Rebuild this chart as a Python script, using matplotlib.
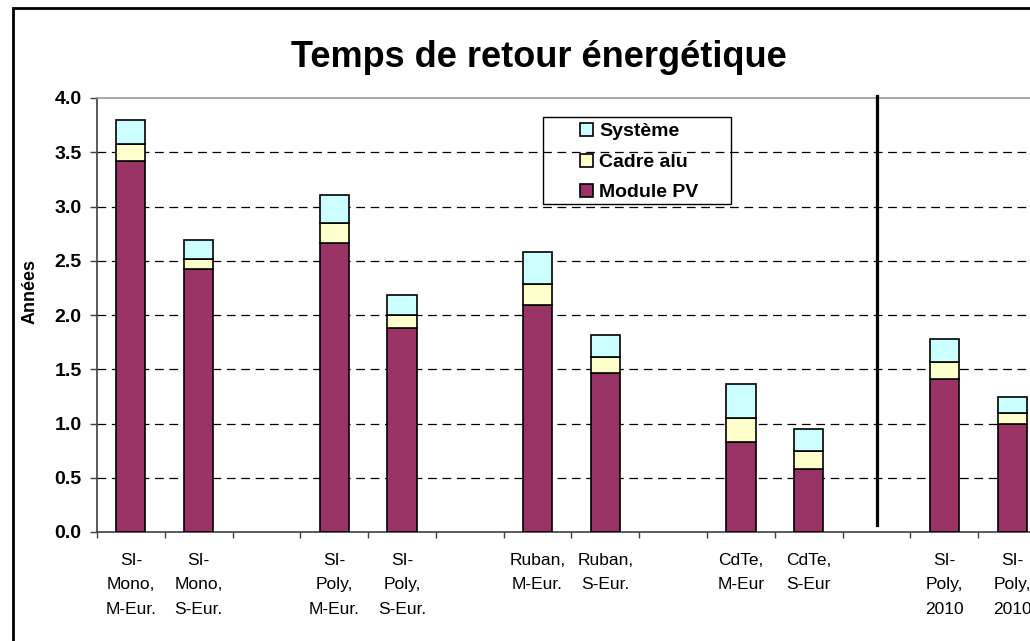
import matplotlib
matplotlib.use("Agg")
import matplotlib.pyplot as plt
import matplotlib.patches as mpatches
import numpy as np

plt.rcParams["font.family"] = ["Liberation Sans", "DejaVu Sans"]

# donnees (annees), '' = emplacement vide entre les groupes
categories = ['SI-\nMono,\nM-Eur.', 'SI-\nMono,\nS-Eur.', '',
              'SI-\nPoly,\nM-Eur.', 'SI-\nPoly,\nS-Eur.', '',
              'Ruban,\nM-Eur.', 'Ruban,\nS-Eur.', '',
              'CdTe,\nM-Eur', 'CdTe,\nS-Eur', '',
              'SI-\nPoly,\n2010', 'SI-\nPoly,\n2010']
module_pv = [3.42, 2.42, 0, 2.66, 1.88, 0, 2.09, 1.47, 0, 0.83, 0.58, 0, 1.41, 1.00]
cadre_alu = [0.16, 0.10, 0, 0.19, 0.12, 0, 0.20, 0.14, 0, 0.22, 0.17, 0, 0.16, 0.10]
systeme   = [0.22, 0.17, 0, 0.26, 0.18, 0, 0.29, 0.21, 0, 0.31, 0.20, 0, 0.21, 0.14]
separateur = 11  # position du trait vertical (emplacement vide)

col_module = '#993366'
col_cadre = '#FFFFCC'
col_syst = '#CCFFFF'

W, H = 1030, 641
fig = plt.figure(figsize=(W / 100, H / 100), dpi=100)
ax = fig.add_axes([97 / W, 1 - 532 / H, 949 / W, 434 / H])

x = np.arange(len(categories))
pleins = np.array([c != '' for c in categories])
xm = x[pleins]
m = np.array(module_pv)[pleins]
c = np.array(cadre_alu)[pleins]
s = np.array(systeme)[pleins]

larg = 0.43
ax.bar(xm, m, larg, color=col_module, edgecolor='black', lw=1.2, label='Module PV', zorder=3)
ax.bar(xm, c, larg, bottom=m, color=col_cadre, edgecolor='black', lw=1.2, label='Cadre alu', zorder=3)
ax.bar(xm, s, larg, bottom=m + c, color=col_syst, edgecolor='black', lw=1.2, label='Système', zorder=3)

# trait vertical de separation
ax.plot([separateur, separateur], [0.06, 4.02], color='black', lw=2.3, clip_on=False, zorder=4)

ax.set_xlim(-0.5, len(categories) - 0.5)
ax.set_ylim(0, 4.0)
ax.set_yticks(np.arange(0, 4.01, 0.5))
ax.set_yticklabels(['%.1f' % v for v in np.arange(0, 4.01, 0.5)], fontweight='bold', fontsize=14)
ax.set_xticks(x)
ax.set_xticklabels(categories, fontsize=12.5, linespacing=1.8)
ax.set_xticks(np.arange(-0.5, len(categories), 1), minor=True)
ax.tick_params(axis='x', which='major', length=0, pad=15)
ax.tick_params(axis='x', which='minor', length=4, width=1, color='#404040', direction='out')
ax.tick_params(axis='y', length=5, width=1, color='#404040', pad=6)

for v in np.arange(0.5, 4.0, 0.5):
    ax.axhline(v, color='black', lw=0.9, ls=(0, (7, 4.5)), zorder=1)

ax.spines['right'].set_visible(False)
ax.spines['top'].set_color('#999999')
ax.spines['top'].set_linewidth(1.2)
ax.spines['left'].set_color('#404040')
ax.spines['bottom'].set_color('#404040')
ax.spines['left'].set_linewidth(1.2)
ax.spines['bottom'].set_linewidth(1.2)

fig.text(539 / W, 1 - 67 / H, 'Temps de retour énergétique', ha='center', va='baseline',
         fontsize=26, fontweight='bold')
fig.text(30 / W, 1 - 291 / H, 'Années', rotation=90, ha='center', va='center',
         fontsize=13, fontweight='bold')

# legende
h, l = ax.get_legend_handles_labels()
leg = ax.legend(h[::-1], l[::-1], loc='upper left', bbox_to_anchor=(580 / W, 1 - 123 / H),
                bbox_transform=fig.transFigure, frameon=False, prop={'weight': 'bold', 'size': 14},
                handlelength=0.65, handleheight=0.65, handletextpad=0.35, labelspacing=0.68,
                borderpad=0, borderaxespad=0)
fig.patches.append(mpatches.Rectangle((543 / W, 1 - 204 / H), 188 / W, 87 / H, fill=False,
                                      edgecolor='black', lw=1, transform=fig.transFigure))

# cadre exterieur
fig.patches.append(mpatches.Rectangle((13 / W, -0.2), 1.2, 1.2 - 8 / H, fill=False,
                                      edgecolor='black', lw=2, transform=fig.transFigure))

fig.savefig('out.png', dpi=100)
